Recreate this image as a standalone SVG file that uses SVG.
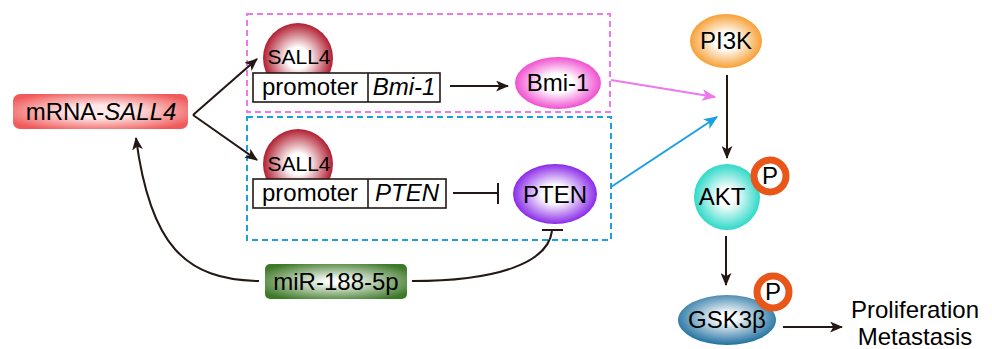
<svg xmlns="http://www.w3.org/2000/svg" width="992" height="349" viewBox="0 0 992 349">
<defs>
<radialGradient id="gRed" cx="50%" cy="50%" r="60%"><stop offset="0.3" stop-color="#ffe8e8"/><stop offset="1" stop-color="#f05a5a"/></radialGradient>
<radialGradient id="gSall" cx="50%" cy="50%" r="50%"><stop offset="0.3" stop-color="#ffffff"/><stop offset="1" stop-color="#b01e30"/></radialGradient>
<radialGradient id="gPink" cx="50%" cy="50%" r="50%"><stop offset="0.35" stop-color="#ffffff"/><stop offset="1" stop-color="#f050d0"/></radialGradient>
<radialGradient id="gPurple" cx="50%" cy="50%" r="50%"><stop offset="0.3" stop-color="#ffffff"/><stop offset="1" stop-color="#8a2be8"/></radialGradient>
<radialGradient id="gOrange" cx="50%" cy="50%" r="50%"><stop offset="0.3" stop-color="#ffffff"/><stop offset="1" stop-color="#f7a035"/></radialGradient>
<radialGradient id="gCyan" cx="50%" cy="50%" r="50%"><stop offset="0.25" stop-color="#ffffff"/><stop offset="1" stop-color="#2fd9c8"/></radialGradient>
<radialGradient id="gBlue" cx="50%" cy="45%" r="55%"><stop offset="0.15" stop-color="#ffffff"/><stop offset="1" stop-color="#1f6f9f"/></radialGradient>
<radialGradient id="gGreen" cx="50%" cy="50%" r="60%"><stop offset="0.1" stop-color="#ffffff"/><stop offset="1" stop-color="#3f7a2a"/></radialGradient>
<marker id="ah" viewBox="0 0 12 10" refX="11" refY="5" markerWidth="13" markerHeight="11" markerUnits="userSpaceOnUse" orient="auto"><path d="M0,0 L12,5 L0,10 L3,5 Z" fill="#231815"/></marker>
<marker id="ahM" viewBox="0 0 12 10" refX="11" refY="5" markerWidth="14" markerHeight="12" markerUnits="userSpaceOnUse" orient="auto"><path d="M0,0 L12,5 L0,10 L3,5 Z" fill="#ee77ee"/></marker>
<marker id="ahB" viewBox="0 0 12 10" refX="11" refY="5" markerWidth="14" markerHeight="12" markerUnits="userSpaceOnUse" orient="auto"><path d="M0,0 L12,5 L0,10 L3,5 Z" fill="#1aa0e0"/></marker>
</defs>
<style>
text{font-family:"Liberation Sans",Arial,sans-serif;fill:#000}
.t20{font-size:24px}
.t16{font-size:21px}
.it{font-style:italic}
.ln{stroke:#231815;stroke-width:2;fill:none}
.pbox{fill:#fff;stroke:#231815;stroke-width:1.6}
.ring{fill:#fff;stroke:#e8561a;stroke-width:7}
</style>

<g id="box-bmi">
<rect x="247" y="14" width="363" height="98" fill="none" stroke="#ee77ee" stroke-width="2" stroke-dasharray="6,4"/>
</g>
<g id="box-pten">
<rect x="247" y="117" width="364" height="123" fill="none" stroke="#1aa0e0" stroke-width="2" stroke-dasharray="6,4"/>
</g>

<g id="connectors">
<path class="ln" d="M193,115 L257,59" marker-end="url(#ah)"/>
<path class="ln" d="M193,115 L257,160" marker-end="url(#ah)"/>
<path class="ln" d="M450,86 L508,86" marker-end="url(#ah)"/>
<path class="ln" d="M453,193 L498,193 M498,183 L498,204"/>
<path d="M611,80 L715,97" stroke="#ee77ee" stroke-width="2" fill="none" marker-end="url(#ahM)"/>
<path d="M611,187 L717,117" stroke="#1aa0e0" stroke-width="2" fill="none" marker-end="url(#ahB)"/>
<path class="ln" d="M727,75 L727,158" marker-end="url(#ah)"/>
<path class="ln" d="M726,236 L726,285" marker-end="url(#ah)"/>
<path class="ln" d="M783,327 L842,327" marker-end="url(#ah)"/>
<path class="ln" d="M259,281 C185,280 150,245 136,138" marker-end="url(#ah)"/>
<path class="ln" d="M412,281 C500,281 548,262 552,231 M542,230 L563,230"/>
</g>

<g id="mrna-sall4">
<rect x="13" y="94" width="175" height="35" rx="7" fill="url(#gRed)"/>
<text class="t20" x="101" y="120" text-anchor="middle">mRNA-<tspan class="it">SALL4</tspan></text>
</g>

<g id="sall4-1">
<circle cx="298" cy="58" r="35" fill="url(#gSall)"/>
<text class="t16" x="299" y="64" text-anchor="middle">SALL4</text>
</g>
<g id="promoter-bmi1">
<rect class="pbox" x="253" y="73" width="187" height="29"/>
<line x1="368" y1="73" x2="368" y2="102" stroke="#231815" stroke-width="1.6"/>
<text class="t20" x="310" y="95" text-anchor="middle">promoter</text>
<text class="t20 it" x="404" y="95" text-anchor="middle">Bmi-1</text>
</g>
<g id="bmi1">
<ellipse cx="558" cy="83" rx="43" ry="26" fill="url(#gPink)"/>
<text class="t20" x="558" y="91" text-anchor="middle">Bmi-1</text>
</g>

<g id="sall4-2">
<circle cx="298" cy="164" r="35" fill="url(#gSall)"/>
<text class="t16" x="299" y="171" text-anchor="middle">SALL4</text>
</g>
<g id="promoter-pten">
<rect class="pbox" x="253" y="179" width="193" height="29"/>
<line x1="368" y1="179" x2="368" y2="208" stroke="#231815" stroke-width="1.6"/>
<text class="t20" x="310" y="201" text-anchor="middle">promoter</text>
<text class="t20 it" x="407" y="201" text-anchor="middle">PTEN</text>
</g>
<g id="pten">
<ellipse cx="555" cy="194" rx="42" ry="30" fill="url(#gPurple)"/>
<text class="t20" x="555" y="203" text-anchor="middle">PTEN</text>
</g>

<g id="pi3k">
<ellipse cx="726" cy="41" rx="36" ry="27" fill="url(#gOrange)"/>
<text class="t20" x="726" y="49" text-anchor="middle">PI3K</text>
</g>
<g id="akt">
<circle cx="727" cy="197" r="33" fill="url(#gCyan)"/>
<text class="t20" x="722" y="205" text-anchor="middle">AKT</text>
<circle class="ring" cx="770" cy="176" r="16"/>
<text class="t20" x="770" y="184" text-anchor="middle">P</text>
</g>
<g id="gsk3b">
<ellipse cx="727" cy="320" rx="49" ry="25" fill="url(#gBlue)"/>
<text class="t20" x="727" y="328" text-anchor="middle">GSK3β</text>
<circle class="ring" cx="773" cy="292" r="16"/>
<text class="t20" x="773" y="300" text-anchor="middle">P</text>
</g>
<g id="outcome">
<text class="t20" x="915" y="318" text-anchor="middle">Proliferation</text>
<text class="t20" x="915" y="345" text-anchor="middle">Metastasis</text>
</g>
<g id="mir188">
<rect x="265" y="264" width="142" height="35" rx="5" fill="url(#gGreen)"/>
<text class="t20" x="336" y="290" text-anchor="middle">miR-188-5p</text>
</g>
</svg>
